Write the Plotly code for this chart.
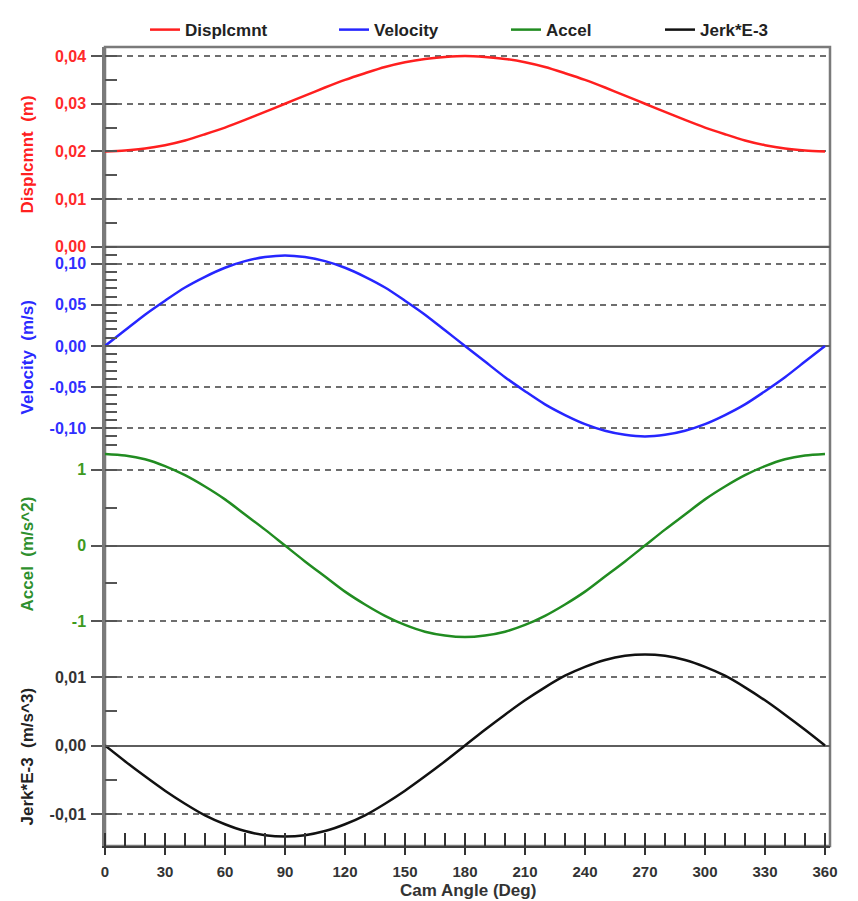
import plotly.graph_objects as go

# ---------------- data ----------------
angles = [0, 10, 20, 30, 40, 50, 60, 70, 80, 90, 100, 110, 120, 130, 140, 150, 160, 170, 180,
          190, 200, 210, 220, 230, 240, 250, 260, 270, 280, 290, 300, 310, 320, 330, 340, 350, 360]

displacement = [0.0200, 0.0202, 0.0206, 0.0213, 0.0223, 0.0236, 0.0250, 0.0266, 0.0283, 0.0300,
                0.0317, 0.0334, 0.0350, 0.0364, 0.0377, 0.0387, 0.0394, 0.0398, 0.0400,
                0.0398, 0.0394, 0.0387, 0.0377, 0.0364, 0.0350, 0.0334, 0.0317, 0.0300,
                0.0283, 0.0266, 0.0250, 0.0236, 0.0223, 0.0213, 0.0206, 0.0202, 0.0200]

velocity = [0.000, 0.019, 0.038, 0.055, 0.071, 0.084, 0.095, 0.103, 0.108, 0.110,
            0.108, 0.103, 0.095, 0.084, 0.071, 0.055, 0.038, 0.019, 0.000,
            -0.019, -0.038, -0.055, -0.071, -0.084, -0.095, -0.103, -0.108, -0.110,
            -0.108, -0.103, -0.095, -0.084, -0.071, -0.055, -0.038, -0.019, 0.000]

accel = [1.21, 1.19, 1.14, 1.05, 0.93, 0.78, 0.61, 0.41, 0.21, 0.00,
         -0.21, -0.41, -0.61, -0.78, -0.93, -1.05, -1.14, -1.19, -1.21,
         -1.19, -1.14, -1.05, -0.93, -0.78, -0.61, -0.41, -0.21, 0.00,
         0.21, 0.41, 0.61, 0.78, 0.93, 1.05, 1.14, 1.19, 1.21]

jerk = [0.0000, -0.0023, -0.0045, -0.0066, -0.0085, -0.0102, -0.0115, -0.0125, -0.0131, -0.0133,
        -0.0131, -0.0125, -0.0115, -0.0102, -0.0085, -0.0066, -0.0045, -0.0023, 0.0000,
        0.0023, 0.0045, 0.0066, 0.0085, 0.0102, 0.0115, 0.0125, 0.0131, 0.0133,
        0.0131, 0.0125, 0.0115, 0.0102, 0.0085, 0.0066, 0.0045, 0.0023, 0.0000]

series_names = ["Displcmnt", "Velocity", "Accel", "Jerk*E-3"]
axis_titles = ["Displcmnt  (m)", "Velocity  (m/s)", "Accel  (m/s^2)", "Jerk*E-3  (m/s^3)"]
x_title = "Cam Angle (Deg)"

disp_tickvals = [0.00, 0.01, 0.02, 0.03, 0.04]
disp_ticktext = ["0,00", "0,01", "0,02", "0,03", "0,04"]
vel_tickvals = [-0.10, -0.05, 0.00, 0.05, 0.10]
vel_ticktext = ["-0,10", "-0,05", "0,00", "0,05", "0,10"]
acc_tickvals = [-1, 0, 1]
acc_ticktext = ["-1", "0", "1"]
jerk_tickvals = [-0.01, 0.00, 0.01]
jerk_ticktext = ["-0,01", "0,00", "0,01"]

# ---------------- styling ----------------
FONT = "Liberation Sans, Arial, sans-serif"
RED = "#ff1f1f"
BLUE = "#2626ff"
GREEN = "#218c21"
BLACK = "#111111"
LABEL_COLORS = ["#ff2a2a", "#3030ff", "#3d9a1e", "#333333"]
TITLE_COLORS = ["#ff2020", "#2a2aff", "#2e8f2e", "#222222"]
AXIS_GRAY = "#7a7a7a"
GRID_GRAY = "#6e6e6e"
ZERO_GRAY = "#5e5e5e"

fig = go.Figure()
series = [displacement, velocity, accel, jerk]
colors = [RED, BLUE, GREEN, BLACK]
yrefs = ["y", "y2", "y3", "y4"]
legends = ["legend", "legend2", "legend3", "legend4"]
for name, vals, col, yr, lg in zip(series_names, series, colors, yrefs, legends):
    fig.add_trace(go.Scatter(
        x=angles, y=vals, name=name, mode="lines", yaxis=yr, legend=lg,
        line=dict(color=col, width=2.5, shape="spline", smoothing=0.8),
        showlegend=True,
    ))


def yaxis(domain, rng, tickvals, ticktext, minor_dtick, label_color):
    return dict(
        domain=domain, range=rng, anchor="x",
        tickmode="array", tickvals=tickvals, ticktext=ticktext,
        ticks="outside", ticklen=11, tickwidth=1.5, tickcolor="#555555",
        ticklabelstandoff=2,
        tickfont=dict(family=FONT, size=16, color=label_color, weight="bold"),
        showline=True, linecolor=AXIS_GRAY, linewidth=2.5,
        showgrid=True, gridcolor=GRID_GRAY, gridwidth=1.6, griddash="6px,5px",
        zeroline=True, zerolinecolor=ZERO_GRAY, zerolinewidth=1.8,
        minor=dict(tickmode="linear", tick0=0, dtick=minor_dtick, ticks="inside",
                   ticklen=12, tickwidth=1.5, tickcolor="#555555", showgrid=False),
        fixedrange=True,
    )


fig.update_layout(
    width=858, height=901, autosize=False,
    margin=dict(l=105, r=28, t=43, b=55, pad=0),
    paper_bgcolor="white", plot_bgcolor="white",
    font=dict(family=FONT, size=16, color="#222222"),
    xaxis=dict(
        domain=[0, 1], anchor="y4", range=[0, 362.5],
        tickmode="linear", tick0=0, dtick=30,
        ticks="outside", ticklen=7, tickwidth=1.5, tickcolor="#333333",
        ticklabelstandoff=4,
        tickfont=dict(family=FONT, size=15, color="#333333", weight="bold"),
        showline=True, linecolor="#3c3c3c", linewidth=2,
        showgrid=False, zeroline=False,
        minor=dict(tickmode="linear", tick0=0, dtick=10, ticks="inside", ticklen=13,
                   tickwidth=1.5, tickcolor="#333333", showgrid=False),
        fixedrange=True,
    ),
    yaxis=yaxis([0.75, 1.0], [0, 0.0419], disp_tickvals, disp_ticktext, 0.005, LABEL_COLORS[0]),
    yaxis2=yaxis([0.5, 0.75], [-0.1222, 0.1205], vel_tickvals, vel_ticktext, 0.01, LABEL_COLORS[1]),
    yaxis3=yaxis([0.25, 0.5], [-1.332, 1.309], acc_tickvals, acc_ticktext, 0.5, LABEL_COLORS[2]),
    yaxis4=yaxis([0.0, 0.25], [-0.01468, 0.0145], jerk_tickvals, jerk_ticktext, 0.005, LABEL_COLORS[3]),
    showlegend=True,
)

# four single-item legends placed along the top, like the reference
legend_x = [0.0552, 0.3159, 0.5531, 0.7655]
for lg, lx in zip(legends, legend_x):
    fig.update_layout({lg: dict(
        x=lx, y=1.0212, xanchor="left", yanchor="middle", orientation="h",
        bgcolor="rgba(0,0,0,0)", borderwidth=0,
        font=dict(family=FONT, size=17, color="#222222", weight="bold"),
    )})

# frame around the whole plotting area
fig.add_shape(type="rect", xref="paper", yref="paper", x0=0, x1=1, y0=0, y1=1,
              line=dict(color=AXIS_GRAY, width=2.5), layer="below")
# solid zero line of the displacement panel (separates it from the velocity panel)
fig.add_shape(type="line", xref="paper", yref="y", x0=0, x1=1, y0=0, y1=0,
              line=dict(color=ZERO_GRAY, width=1.8), layer="below")

# y-axis titles, aligned in one column
title_y = [0.8655, 0.6115, 0.3661, 0.1121]
for txt, ty, col in zip(axis_titles, title_y, TITLE_COLORS):
    fig.add_annotation(text=txt, xref="paper", yref="paper", x=-0.1076, y=ty,
                       xanchor="center", yanchor="middle", textangle=-90, showarrow=False,
                       font=dict(family=FONT, size=17, color=col, weight="bold"))

fig.add_annotation(text=x_title, xref="paper", yref="paper", x=0.5, y=-0.056,
                   xanchor="center", yanchor="middle", showarrow=False,
                   font=dict(family=FONT, size=17, color="#333333", weight="bold"))

fig.write_html("out.html")
